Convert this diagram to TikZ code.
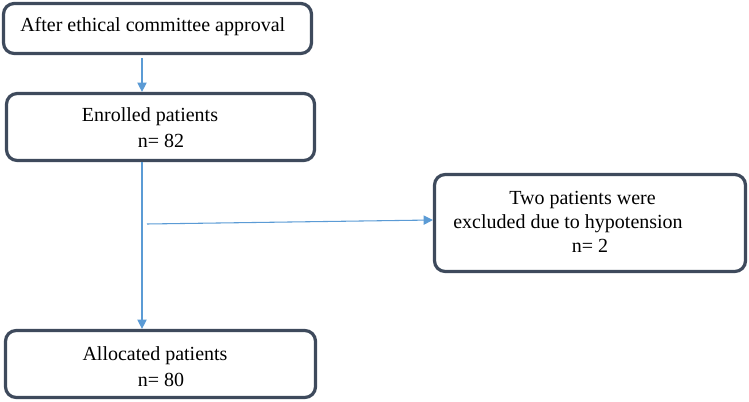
\documentclass[tikz,border=0pt]{standalone}
\usepackage{fontspec}
\setmainfont{Liberation Serif}
\usetikzlibrary{arrows.meta}
\definecolor{boxline}{HTML}{3E4A5C}
\definecolor{arrowblue}{HTML}{5B9BD5}
\tikzset{
  box/.style={draw=boxline, line width=2.4pt, rounded corners=8pt, fill=white, inner sep=0pt},
  txt/.style={font=\fontsize{15pt}{18pt}\selectfont, inner sep=0pt, anchor=base},
  arr/.style={draw=arrowblue, line width=0.8pt, -{Triangle[length=7pt,width=7pt]}},
  plain/.style={draw=arrowblue, line width=0.8pt},
}
\begin{document}
\begin{tikzpicture}[x=0.75pt,y=-0.75pt]
\useasboundingbox (0,0) rectangle (749,402);
% boxes
\node[box, minimum width=308*0.75pt, minimum height=50*0.75pt] (b1) at (157.5,28.5) {};
\node[box, minimum width=308*0.75pt, minimum height=67*0.75pt] (b2) at (160.5,127) {};
\node[box, minimum width=310*0.75pt, minimum height=67*0.75pt] (b3) at (160.5,364) {};
\node[box, minimum width=311*0.75pt, minimum height=97*0.75pt] (b4) at (590,223) {};
% texts
\node[txt, anchor=base west] (t1) at (20,32) {After ethical committee approval};
\node[txt] (t2a) at (150,122) {Enrolled patients};
\node[txt] (t2b) at (161,148) {n= 82};
\node[txt] (t3a) at (155,360) {Allocated patients};
\node[txt] (t3b) at (161,386) {n= 80};
\node[txt] (t4a) at (582.5,205) {Two patients were};
\node[txt] (t4b) at (568,229) {excluded due to hypotension};
\node[txt] (t4c) at (590,253) {n= 2};
% connectors
\coordinate (vx) at (142,0);
\coordinate (hs) at (147,224);
\coordinate (hy) at (0,220);
\draw[arr, shorten <=2.5pt] (b1.south -| vx) -- (b2.north -| vx);
\draw[arr] (b2.south -| vx) -- (b3.north -| vx);
\draw[arr] (hs) -- (b4.west |- hy);
\end{tikzpicture}
\end{document}
